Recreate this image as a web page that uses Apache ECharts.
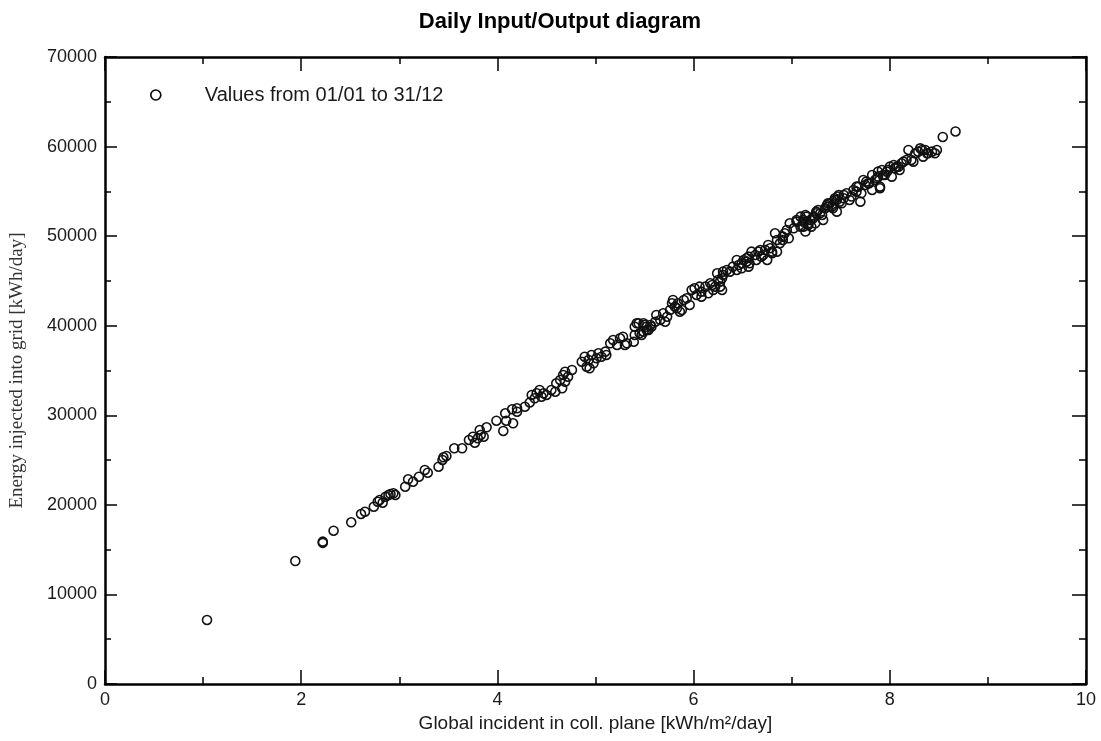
<!DOCTYPE html>
<html>
<head>
<meta charset="utf-8">
<script src="https://cdn.jsdelivr.net/npm/echarts@6/dist/echarts.min.js"></script>
<style>
html,body{margin:0;padding:0;background:#fff;}
#main{width:1101px;height:741px;}
</style>
</head>
<body>
<div id="main"></div>
<script>
// daily values: global incident [kWh/m2/day] and energy to grid [kWh/day]
var globalIncident = [
1.04,1.94,2.22,2.22,2.33,2.51,2.61,2.65,2.74,2.78,2.80,2.83,2.86,2.89,2.91,2.94,2.96,
3.06,3.09,3.14,3.20,3.26,3.29,3.40,3.44,3.45,3.48,3.56,3.64,3.71,3.75,3.77,3.80,3.82,3.83,3.86,3.89,3.99,
4.06,4.08,4.09,4.16,4.15,4.20,4.20,4.28,4.33,4.35,4.38,4.40,4.43,4.47,4.45,4.50,4.55,4.59,4.60,4.66,4.64,
4.67,4.69,4.72,4.76,4.69,4.86,4.89,4.91,4.94,4.93,4.96,4.98,
5.01,5.03,5.06,5.10,5.11,5.15,5.18,5.22,5.25,5.28,5.30,5.32,5.39,5.40,5.45,5.49,5.52,5.40,5.44,5.47,5.49,
5.52,5.56,5.42,5.50,5.54,5.57,5.61,5.62,5.66,5.69,5.71,5.73,5.76,5.78,5.79,5.81,5.83,5.84,5.86,5.88,5.90,
5.93,5.96,5.98,
6.01,6.03,6.06,6.08,6.08,6.12,6.15,6.17,6.19,6.20,6.22,6.24,6.25,6.27,6.27,6.29,6.29,6.30,6.30,6.34,6.37,
6.40,6.44,6.44,6.46,6.49,6.49,6.51,6.54,6.54,6.56,6.56,6.57,6.59,6.63,6.64,6.66,6.68,6.69,6.71,6.73,6.75,
6.76,6.78,6.80,6.80,6.83,6.85,6.85,6.88,6.91,6.91,6.93,6.95,6.97,6.98,
7.02,7.05,7.05,7.09,7.09,7.12,7.12,7.12,7.14,7.14,7.15,7.17,7.17,7.19,7.20,7.22,7.22,7.24,7.25,7.25,7.27,
7.29,7.31,7.32,7.34,7.36,7.37,7.37,7.39,7.41,7.42,7.44,7.44,7.46,7.46,7.47,7.48,7.49,7.51,7.53,7.53,7.56,
7.59,7.61,7.63,7.66,7.66,7.68,7.70,7.71,7.73,7.75,7.76,7.78,7.79,7.82,7.82,7.85,7.87,7.88,7.88,7.90,7.90,
7.92,7.93,7.95,7.97,7.98,
8.00,8.02,8.04,8.05,8.07,8.09,8.10,8.12,8.14,8.17,8.19,8.22,8.24,8.26,8.29,8.31,8.33,8.34,8.36,8.38,8.39,
8.43,8.46,8.48,8.54,8.67
];
var energyInjected = [
7150,13730,15890,15760,17115,18054,18980,19237,19795,20354,20544,20242,20912,21101,21213,21291,21101,
22028,22854,22587,23145,23893,23592,24262,25009,25311,25456,26316,26316,27243,27611,26941,27432,28359,27800,27611,28660,29397,
28247,30224,29397,29107,30670,30403,30782,30960,31430,32267,31898,32456,32824,32456,32076,32267,32824,32634,33572,33013,33941,
34499,33751,34309,35057,34867,35984,36543,35426,35248,36174,36732,35805,
36364,36923,36543,37102,36732,38039,38407,37849,38597,38775,37849,38039,38217,38965,39155,39334,39524,39892,40271,38965,40271,
39892,40081,40271,40081,39524,39892,40450,41199,40641,41389,40450,41009,41757,42505,42874,42125,41947,42505,41567,41757,42874,
43064,42316,43990,
44180,43432,44359,43801,43243,44359,43622,44739,44550,43990,44359,45855,45107,44359,44928,45297,43990,45665,46034,46223,46034,
46593,47341,46223,46782,46413,46972,47341,47531,47151,46593,47709,46972,48267,47898,47341,48267,48457,47709,47898,48457,47341,
49014,48645,48267,48088,50322,49573,48267,49207,49942,49573,50322,50690,49763,51438,
50880,51806,51616,52174,51058,51616,51806,51058,52364,50512,52174,51248,51438,51806,51058,52174,51995,51438,52732,52553,52918,
52553,52364,51806,53113,53479,53671,53291,53671,53291,53113,54039,54229,54039,52732,54418,54597,53850,53671,54229,54597,54787,
54039,54418,55155,55525,54966,55525,53850,54787,56272,55713,56082,55892,55892,55155,56830,56272,56462,56641,57199,55346,55525,
57389,56830,56830,57199,57389,
57757,56641,57947,57578,57757,57757,57389,58135,58314,58504,59621,58504,58314,59252,59431,59800,59621,58873,59621,59252,59252,
59431,59252,59621,61072,61687
];
var xTicks = [0, 2, 4, 6, 8, 10];
var yTicks = [0, 10000, 20000, 30000, 40000, 50000, 60000, 70000];

var points = globalIncident.map(function (x, i) {
    return [x, energyInjected[i]];
});

var myecharts = echarts.init(document.getElementById('main'));

function axisBase(min, max, interval, tickLen, show) {
    return {
        type: 'value',
        min: min,
        max: max,
        interval: interval,
        axisLine: {show: true, onZero: false, lineStyle: {color: '#000', width: 2.5}},
        axisTick: {show: true, inside: true, length: tickLen, lineStyle: {color: '#000', width: 1.5}},
        minorTick: {show: true, splitNumber: 2, length: Math.round(tickLen / 2), lineStyle: {color: '#000', width: 1.5}},
        splitLine: {show: false},
        axisLabel: {
            show: show, color: '#1a1a1a', fontFamily: 'Liberation Sans', fontSize: 18,
            formatter: function (v) { return String(v); }
        }
    };
}

var xBottom = axisBase(xTicks[0], xTicks[xTicks.length - 1], 2, 14, true);
xBottom.position = 'bottom';
xBottom.axisLabel.margin = 7;
xBottom.name = 'Global incident in coll. plane [kWh/m\u00b2/day]';
xBottom.nameLocation = 'middle';
xBottom.nameGap = 28;
xBottom.nameTextStyle = {color: '#1a1a1a', fontFamily: 'Liberation Sans', fontSize: 19};
var xTop = axisBase(xTicks[0], xTicks[xTicks.length - 1], 2, 14, false);
xTop.position = 'top';

var yLeft = axisBase(yTicks[0], yTicks[yTicks.length - 1], 10000, 12, true);
yLeft.position = 'left';
yLeft.axisLabel.margin = 8;
yLeft.name = 'Energy injected into grid [kWh/day]';
yLeft.nameLocation = 'middle';
yLeft.nameGap = 78;
yLeft.nameTextStyle = {color: '#333', fontFamily: 'Liberation Serif', fontSize: 19};
var yRight = axisBase(yTicks[0], yTicks[yTicks.length - 1], 10000, 14, false);
yRight.position = 'right';

var option = {
    backgroundColor: '#fff',
    animation: false,
    title: {
        text: 'Daily Input/Output diagram',
        left: 555,
        textAlign: 'center',
        top: 6,
        textStyle: {color: '#000', fontFamily: 'Liberation Sans', fontWeight: 'bold', fontSize: 22}
    },
    legend: {
        left: 145,
        top: 80,
        itemWidth: 10,
        itemHeight: 10,
        itemGap: 0,
        textStyle: {color: '#1a1a1a', fontFamily: 'Liberation Sans', fontSize: 20, padding: [0, 0, 0, 39]},
        data: [{name: 'Values from 01/01 to 31/12', icon: 'circle',
                itemStyle: {color: 'transparent', borderColor: '#000', borderWidth: 1.6}}]
    },
    grid: {
        left: 105,
        right: 15,
        top: 57,
        bottom: 57,
        show: false
    },
    xAxis: [xBottom, xTop],
    yAxis: [yLeft, yRight],
    series: [
        {
            name: 'Values from 01/01 to 31/12',
            type: 'scatter',
            xAxisIndex: 0,
            yAxisIndex: 0,
            symbol: 'circle',
            symbolSize: 9,
            itemStyle: {color: 'transparent', borderColor: '#111', borderWidth: 1.6, opacity: 1},
            data: points
        }
    ]
};
myecharts.setOption(option);
</script>
</body>
</html>
